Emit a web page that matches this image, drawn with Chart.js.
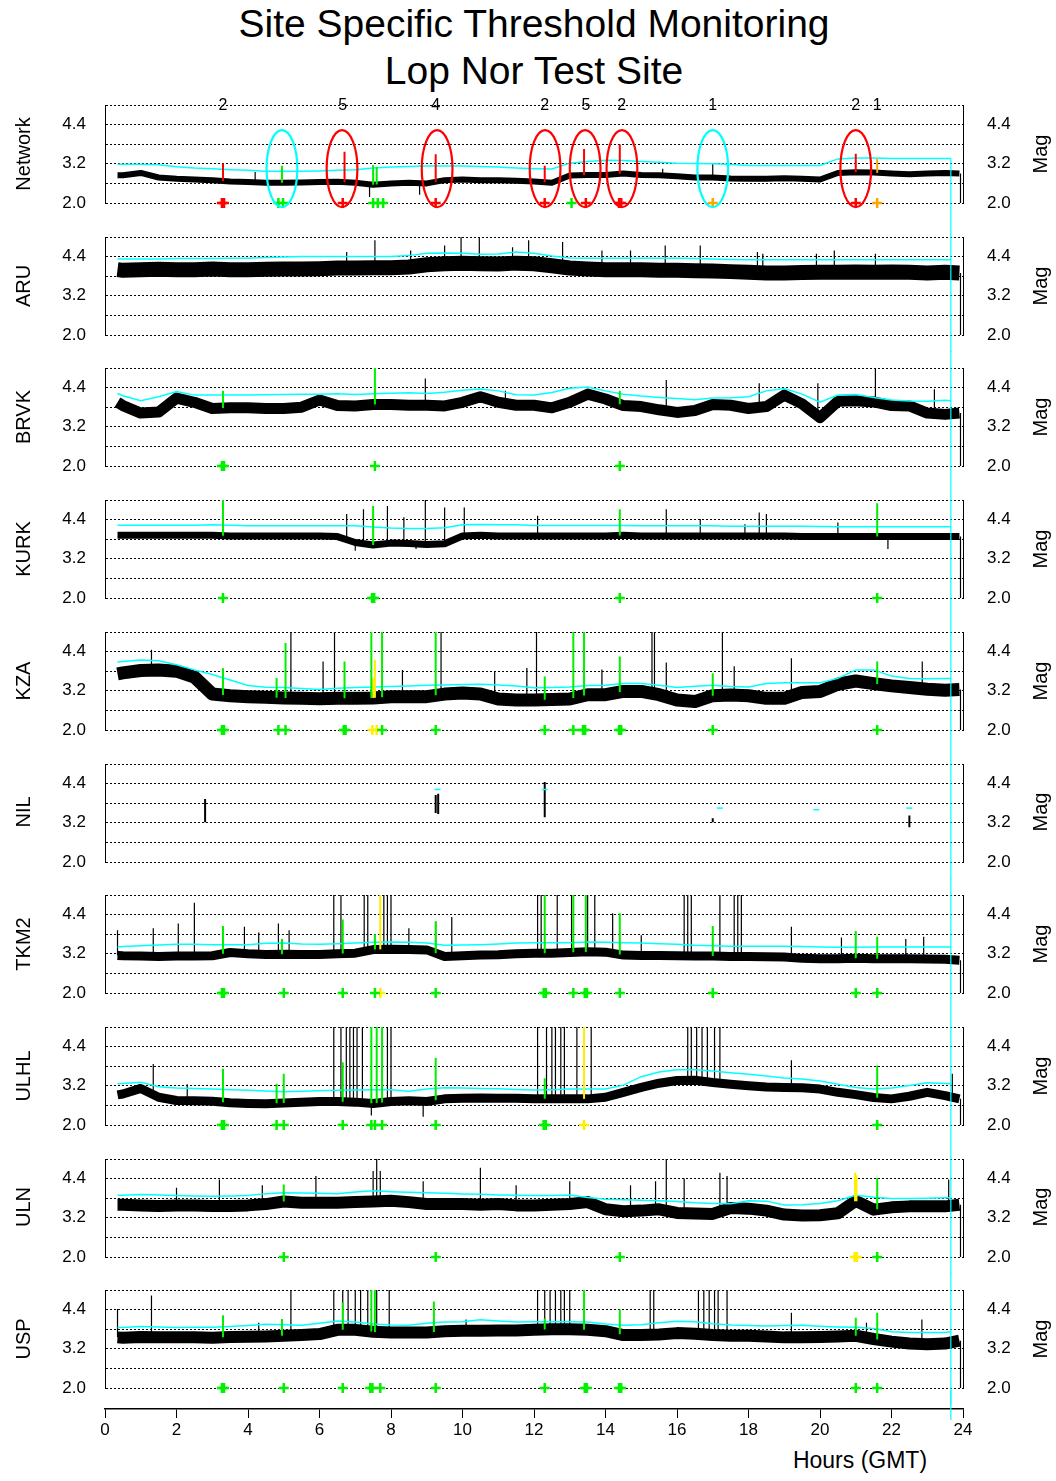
<!DOCTYPE html>
<html lang="en">
<head>
<meta charset="UTF-8">
<meta name="viewport" content="width=device-width, initial-scale=1.0">
<title>Site Specific Threshold Monitoring</title>
<script src="https://cdn.jsdelivr.net/npm/chart.js"></script>
<style>
    html, body { margin: 0; padding: 0; background: #fff; }
    body {
        position: relative;
        width: 1056px;
        height: 1481px;
        overflow: hidden;
        font-family: "Liberation Sans", Arial, sans-serif;
        color: #000;
    }
    canvas { position: absolute; left: 0; }
    .title {
        position: absolute; left: 0; top: 0; width: 1068px;
        text-align: center; font-size: 39px; line-height: 47px;
    }
    .side {
        position: absolute; width: 200px; height: 24px; line-height: 24px;
        text-align: center; font-size: 20px; white-space: nowrap;
        transform: rotate(-90deg);
    }
    .xtitle {
        position: absolute; left: 760px; top: 1447px; width: 200px;
        text-align: center; font-size: 23px; line-height: 26px;
    }
</style>
</head>
<body>
<div class="title">Site Specific Threshold Monitoring<br>Lop Nor Test Site</div>
<div class="xtitle">Hours (GMT)</div>

<script>
// time grid of the station traces and of the thresholds (hours GMT)
var hours = [0.35, 0.5, 1, 1.5, 2, 2.5, 3, 3.5, 4, 4.5, 5, 5.5, 6, 6.5, 7, 7.5, 8, 8.5, 9, 9.5,
    10, 10.5, 11, 11.5, 12, 12.5, 13, 13.5, 14, 14.5, 15, 15.5, 16, 16.5, 17, 17.5, 18, 18.5, 19, 19.5,
    20, 20.5, 21, 21.5, 22, 22.5, 23, 23.5, 23.9];
var thrHours = [0.35, 0.5, 1, 1.5, 2, 2.5, 3, 3.5, 4, 4.5, 5, 5.5, 6, 6.5, 7, 7.5, 8, 8.5, 9, 9.5,
    10, 10.5, 11, 11.5, 12, 12.5, 13, 13.5, 14, 14.5, 15, 15.5, 16, 16.5, 17, 17.5, 18, 18.5, 19, 19.5,
    20, 20.5, 21, 21.5, 22, 22.5, 23, 23.5, 23.66];
var nowHour = 23.66;
var hourTicks = [0, 2, 4, 6, 8, 10, 12, 14, 16, 18, 20, 22, 24];
var gridMags = [2.0, 2.6, 3.2, 3.8, 4.4, 5.0];
var labelMags = [2.0, 3.2, 4.4];

// Network
var networkTrace = [2.85, 2.85, 2.92, 2.78, 2.74, 2.72, 2.70, 2.66, 2.64, 2.62,
    2.62, 2.63, 2.64, 2.65, 2.62, 2.56, 2.60, 2.62, 2.60, 2.70,
    2.72, 2.70, 2.70, 2.68, 2.66, 2.62, 2.84, 2.86, 2.86, 2.90,
    2.86, 2.85, 2.82, 2.78, 2.78, 2.75, 2.74, 2.74, 2.76, 2.74,
    2.72, 2.92, 2.94, 2.93, 2.90, 2.88, 2.90, 2.92, 2.90];
var networkThr = [3.19, 3.19, 3.19, 3.17, 3.11, 3.07, 3.05, 3.02, 3.00, 2.97,
    2.97, 2.97, 2.98, 3.00, 3.02, 3.07, 3.10, 3.12, 3.13, 3.13,
    3.13, 3.12, 3.10, 3.07, 3.05, 3.04, 3.22, 3.27, 3.31, 3.30,
    3.27, 3.25, 3.22, 3.21, 3.20, 3.18, 3.15, 3.15, 3.15, 3.15,
    3.15, 3.35, 3.38, 3.38, 3.36, 3.36, 3.36, 3.36, 3.36];
var networkSpikes = [[4.2, 2.95], [7.4, 2.18], [8.8, 2.25], [15.6, 3.05], [17.0, 3.2], [23.93, 2.0]];
var networkRed = [[3.3, 3.21], [6.7, 3.57], [9.25, 3.49], [12.3, 3.14], [13.4, 3.65], [14.4, 3.79], [21.0, 3.51]];
var networkGreen = [[4.95, 3.14], [7.5, 3.16], [7.6, 3.1]];
var networkOrange = [[21.6, 3.36]];
var networkMarks = [4.85, 4.98, 7.5, 7.63, 7.78, 13.05];
var networkRedMarks = [3.27, 3.33, 6.65, 9.25, 12.3, 13.45, 14.38, 14.44, 21.0];
var networkOrangeMarks = [17.0, 21.6];
var eventHours = [3.3, 6.65, 9.25, 12.3, 13.45, 14.45, 17.0, 21.0, 21.6];
var eventCounts = ['2', '5', '4', '2', '5', '2', '1', '2', '1'];
var circledHours = [6.63, 9.29, 12.31, 13.43, 14.46, 21.0];
var missedHours = [4.95, 17.0];

// ARU
var aruTrace = [4.00, 3.98, 4.00, 4.01, 4.00, 4.00, 4.02, 4.00, 4.00, 4.01,
    4.02, 4.02, 4.03, 4.05, 4.05, 4.06, 4.06, 4.08, 4.15, 4.18,
    4.20, 4.18, 4.17, 4.20, 4.18, 4.12, 4.05, 4.02, 4.00, 4.00,
    4.00, 3.98, 3.98, 3.97, 3.96, 3.94, 3.92, 3.90, 3.90, 3.91,
    3.92, 3.92, 3.93, 3.92, 3.93, 3.92, 3.90, 3.92, 3.90];
var aruThr = [4.33, 4.33, 4.33, 4.33, 4.34, 4.34, 4.34, 4.35, 4.35, 4.37,
    4.39, 4.40, 4.40, 4.40, 4.40, 4.40, 4.40, 4.43, 4.50, 4.51,
    4.50, 4.47, 4.48, 4.54, 4.50, 4.42, 4.36, 4.35, 4.35, 4.35,
    4.35, 4.35, 4.35, 4.34, 4.33, 4.31, 4.30, 4.30, 4.30, 4.30,
    4.30, 4.30, 4.30, 4.30, 4.30, 4.30, 4.30, 4.30, 4.30];
var aruSpikes = [[6.76, 4.54], [7.55, 4.9], [8.55, 4.59], [9.5, 4.74], [9.96, 5.0], [10.47, 5.0], [11.4, 4.69],
    [11.85, 4.9], [12.8, 4.85], [13.9, 4.59], [14.7, 4.59], [15.67, 4.74], [16.65, 4.74], [18.25, 4.54],
    [18.4, 4.49], [19.9, 4.49], [20.4, 4.59], [21.55, 4.49], [23.93, 2.0]];

// BRVK
var brvkTrace = [3.95, 3.85, 3.62, 3.65, 4.08, 3.95, 3.76, 3.78, 3.78, 3.76,
    3.76, 3.80, 4.02, 3.85, 3.84, 3.88, 3.88, 3.86, 3.86, 3.84,
    3.95, 4.12, 3.95, 3.86, 3.86, 3.78, 3.95, 4.20, 4.05, 3.85,
    3.82, 3.72, 3.64, 3.70, 3.88, 3.86, 3.76, 3.82, 4.17, 3.90,
    3.48, 3.98, 4.00, 3.96, 3.85, 3.84, 3.62, 3.58, 3.62];
var brvkThr = [4.22, 4.15, 4.00, 4.12, 4.28, 4.17, 4.17, 4.17, 4.17, 4.18,
    4.19, 4.20, 4.20, 4.21, 4.19, 4.21, 4.23, 4.24, 4.22, 4.26,
    4.32, 4.36, 4.30, 4.18, 4.17, 4.25, 4.38, 4.42, 4.30, 4.20,
    4.14, 4.10, 4.07, 4.03, 4.08, 4.09, 4.12, 4.30, 4.37, 4.20,
    3.95, 4.17, 4.19, 4.10, 4.02, 3.99, 3.98, 4.01, 4.00];
var brvkSpikes = [[8.96, 4.68], [11.2, 4.3], [15.7, 4.63], [18.3, 4.53], [19.94, 4.53], [21.55, 5.0], [23.2, 4.35], [23.93, 2.0]];
var brvkGreen = [[3.3, 4.3], [7.55, 5.0], [14.4, 4.3]];
var brvkMarks = [3.27, 3.33, 7.55, 14.4];

// KURK
var kurkTrace = [3.92, 3.92, 3.92, 3.92, 3.92, 3.92, 3.92, 3.90, 3.90, 3.90,
    3.90, 3.90, 3.90, 3.88, 3.70, 3.62, 3.68, 3.67, 3.64, 3.66,
    3.90, 3.92, 3.90, 3.90, 3.90, 3.90, 3.90, 3.90, 3.90, 3.92,
    3.90, 3.90, 3.90, 3.90, 3.90, 3.90, 3.90, 3.90, 3.90, 3.88,
    3.88, 3.88, 3.88, 3.88, 3.88, 3.88, 3.88, 3.88, 3.88];
var kurkThr = [4.23, 4.23, 4.23, 4.23, 4.23, 4.23, 4.24, 4.23, 4.21, 4.21,
    4.21, 4.21, 4.21, 4.21, 4.21, 4.17, 4.14, 4.13, 4.13, 4.15,
    4.24, 4.25, 4.24, 4.24, 4.22, 4.22, 4.22, 4.22, 4.22, 4.22,
    4.21, 4.21, 4.21, 4.21, 4.21, 4.20, 4.20, 4.20, 4.20, 4.20,
    4.19, 4.18, 4.18, 4.18, 4.18, 4.18, 4.18, 4.18, 4.18];
var kurkSpikes = [[6.76, 4.57], [7.0, 3.45], [7.23, 4.72], [7.9, 4.82], [8.36, 4.47], [8.7, 3.5], [8.96, 5.0],
    [9.5, 4.77], [10.05, 4.77], [12.1, 4.52], [15.7, 4.72], [16.65, 4.42], [17.9, 4.26], [18.3, 4.62],
    [18.5, 4.57], [20.5, 4.31], [21.9, 3.5], [23.93, 2.0]];
var kurkGreen = [[3.3, 5.0], [7.5, 4.82], [14.4, 4.72], [21.6, 4.9]];
var kurkMarks = [3.3, 7.47, 7.53, 14.4, 21.6];

// KZA
var kzaTrace = [3.72, 3.75, 3.82, 3.84, 3.80, 3.62, 3.10, 3.05, 3.02, 3.00,
    2.98, 2.97, 2.96, 2.97, 2.97, 2.98, 3.02, 3.02, 3.02, 3.10,
    3.13, 3.10, 2.95, 2.92, 2.92, 2.93, 2.95, 3.08, 3.08, 3.18,
    3.18, 3.08, 2.92, 2.87, 3.05, 3.07, 3.05, 2.97, 2.97, 3.15,
    3.18, 3.40, 3.50, 3.42, 3.35, 3.30, 3.25, 3.22, 3.24];
var kzaThr = [4.08, 4.10, 4.14, 4.12, 4.00, 3.84, 3.70, 3.53, 3.36, 3.31,
    3.30, 3.27, 3.24, 3.28, 3.30, 3.32, 3.33, 3.35, 3.37, 3.38,
    3.39, 3.40, 3.38, 3.35, 3.29, 3.30, 3.32, 3.36, 3.37, 3.42,
    3.42, 3.37, 3.30, 3.34, 3.37, 3.33, 3.32, 3.42, 3.45, 3.45,
    3.45, 3.58, 3.84, 3.84, 3.65, 3.58, 3.57, 3.58, 3.58];
var kzaSpikes = [[1.3, 4.46], [5.2, 5.0], [6.1, 4.1], [6.42, 5.0], [8.32, 3.84], [9.4, 5.0], [10.9, 3.79],
    [11.8, 3.9], [12.07, 5.0], [13.9, 3.85], [15.3, 5.0], [15.37, 5.0], [15.7, 4.07], [17.27, 5.0],
    [17.6, 3.95], [19.2, 4.2], [22.86, 4.1], [23.93, 2.0]];
var kzaGreen = [[3.3, 3.89], [4.8, 3.59], [5.05, 4.66], [6.7, 4.1], [7.45, 5.0], [7.75, 5.0], [9.25, 5.0],
    [12.3, 3.64], [13.1, 5.0], [13.4, 5.0], [14.4, 4.25], [17.0, 3.74], [21.6, 4.1]];
var kzaYellow = [[7.5, 3.6], [7.55, 4.15]];
var kzaMarks = [3.27, 3.33, 4.85, 5.05, 6.68, 6.73, 7.75, 9.25, 12.3, 13.1, 13.37, 13.43, 14.38, 14.44, 17.0, 21.6];
var kzaYMarks = [7.48, 7.6];

// NIL: only a few short pieces of data
var nilSegments = [[2.8, 3.22, 3.93], [9.25, 3.5, 4.05], [9.32, 3.47, 4.09], [12.3, 3.37, 4.45], [17.0, 3.22, 3.34], [22.5, 3.06, 3.42]];
var nilThrHours = [9.3, 12.3, 17.2, 19.9, 22.5];
var nilThr = [4.22, 4.22, 3.65, 3.6, 3.65];

// TKM2
var tkm2Trace = [3.15, 3.14, 3.13, 3.12, 3.13, 3.13, 3.14, 3.24, 3.20, 3.18,
    3.19, 3.18, 3.18, 3.20, 3.22, 3.33, 3.34, 3.33, 3.32, 3.12,
    3.14, 3.16, 3.17, 3.20, 3.22, 3.22, 3.24, 3.26, 3.25, 3.16,
    3.15, 3.15, 3.14, 3.13, 3.13, 3.12, 3.12, 3.11, 3.10, 3.06,
    3.05, 3.05, 3.06, 3.05, 3.05, 3.05, 3.04, 3.03, 3.00];
var tkm2Thr = [3.41, 3.42, 3.45, 3.47, 3.49, 3.49, 3.48, 3.48, 3.48, 3.52,
    3.53, 3.50, 3.49, 3.51, 3.53, 3.55, 3.56, 3.55, 3.53, 3.46,
    3.47, 3.48, 3.50, 3.53, 3.54, 3.54, 3.54, 3.56, 3.55, 3.54,
    3.53, 3.51, 3.49, 3.46, 3.45, 3.43, 3.43, 3.43, 3.43, 3.42,
    3.41, 3.40, 3.40, 3.41, 3.41, 3.41, 3.41, 3.41, 3.41];
var tkm2Spikes = [[0.35, 3.92], [1.35, 3.98], [2.05, 4.13], [2.5, 4.76], [3.9, 4.03], [4.3, 3.85], [4.85, 4.13],
    [5.15, 3.92], [6.4, 5.0], [6.6, 5.0], [7.25, 5.0], [7.35, 5.0], [7.8, 5.0], [7.9, 5.0], [8.0, 5.0],
    [8.5, 3.98], [9.25, 4.18], [9.7, 4.33], [12.1, 5.0], [12.2, 5.0], [12.65, 5.0], [13.05, 5.0],
    [13.5, 5.0], [13.7, 5.0], [14.2, 4.44], [15.0, 3.77], [16.2, 5.0], [16.3, 5.0], [16.4, 5.0],
    [17.2, 5.0], [17.6, 5.0], [17.7, 5.0], [17.8, 5.0], [19.2, 4.03], [20.6, 3.7], [22.4, 3.65],
    [22.9, 3.72], [23.93, 2.0]];
var tkm2Green = [[3.3, 4.05], [4.95, 3.65], [6.65, 4.25], [7.55, 3.8], [9.25, 4.2], [12.3, 5.0], [13.1, 5.0],
    [13.45, 5.0], [14.4, 4.44], [17.0, 4.05], [21.0, 3.9], [21.6, 3.72]];
var tkm2Yellow = [[7.7, 5.0]];
var tkm2Marks = [3.27, 3.33, 5.0, 6.65, 7.55, 9.25, 12.27, 12.33, 13.1, 13.42, 13.48, 14.4, 17.0, 21.0, 21.6];
var tkm2YMarks = [7.7];

// ULHL
var ulhlTrace = [2.92, 2.95, 3.12, 2.85, 2.75, 2.74, 2.73, 2.68, 2.66, 2.65,
    2.67, 2.70, 2.72, 2.72, 2.70, 2.66, 2.72, 2.74, 2.72, 2.80,
    2.82, 2.83, 2.82, 2.82, 2.80, 2.80, 2.80, 2.80, 2.85, 3.00,
    3.15, 3.28, 3.36, 3.37, 3.30, 3.25, 3.20, 3.16, 3.15, 3.14,
    3.10, 3.00, 2.93, 2.84, 2.80, 2.88, 3.00, 2.90, 2.80];
var ulhlThr = [3.26, 3.27, 3.31, 3.17, 3.13, 3.12, 3.10, 3.08, 3.06, 3.04,
    3.02, 3.03, 3.05, 3.06, 3.07, 3.08, 3.08, 3.03, 3.10, 3.14,
    3.13, 3.12, 3.11, 3.09, 3.07, 3.08, 3.10, 3.10, 3.10, 3.22,
    3.48, 3.62, 3.69, 3.69, 3.65, 3.60, 3.55, 3.50, 3.44, 3.41,
    3.35, 3.25, 3.15, 3.10, 3.13, 3.21, 3.29, 3.27, 3.26];
var ulhlSpikes = [[1.35, 3.87], [2.3, 3.25], [6.4, 5.0], [6.6, 5.0], [6.75, 5.0], [6.85, 5.0], [6.95, 5.0],
    [7.05, 5.0], [7.2, 5.0], [7.45, 2.29], [7.9, 5.0], [8.0, 5.0], [8.9, 2.25], [12.1, 5.0], [12.35, 5.0],
    [12.5, 5.0], [12.6, 5.0], [12.75, 5.0], [12.85, 5.0], [13.2, 5.0], [13.6, 5.0], [16.3, 5.0],
    [16.4, 5.0], [16.55, 5.0], [16.7, 5.0], [16.85, 5.0], [17.05, 5.0], [17.2, 5.0], [19.2, 3.98],
    [23.7, 3.57], [23.93, 2.0]];
var ulhlGreen = [[3.3, 3.72], [4.8, 3.26], [5.0, 3.57], [6.65, 3.92], [7.45, 5.0], [7.6, 5.0], [7.75, 5.0],
    [9.25, 4.05], [12.3, 3.43], [21.6, 3.82]];
var ulhlYellow = [[13.4, 5.0]];
var ulhlMarks = [3.27, 3.33, 4.8, 5.0, 6.65, 7.45, 7.55, 7.75, 9.25, 12.27, 12.33, 21.6];
var ulhlYMarks = [13.4];

// ULN
var ulnTrace = [3.60, 3.60, 3.58, 3.56, 3.58, 3.58, 3.56, 3.56, 3.58, 3.62,
    3.70, 3.66, 3.66, 3.66, 3.68, 3.70, 3.72, 3.68, 3.62, 3.62,
    3.62, 3.60, 3.62, 3.58, 3.58, 3.60, 3.62, 3.68, 3.46, 3.40,
    3.42, 3.46, 3.35, 3.33, 3.32, 3.50, 3.48, 3.42, 3.30, 3.27,
    3.28, 3.34, 3.72, 3.45, 3.52, 3.55, 3.55, 3.55, 3.60];
var ulnThr = [3.89, 3.89, 3.91, 3.90, 3.88, 3.87, 3.86, 3.87, 3.88, 3.94,
    3.97, 3.96, 3.95, 3.94, 3.99, 4.03, 4.00, 3.98, 3.97, 3.95,
    3.93, 3.92, 3.90, 3.89, 3.88, 3.88, 3.90, 3.82, 3.77, 3.75,
    3.74, 3.72, 3.70, 3.66, 3.64, 3.63, 3.72, 3.71, 3.59, 3.60,
    3.64, 3.72, 3.89, 3.83, 3.79, 3.79, 3.80, 3.81, 3.81];
var ulnSpikes = [[2.0, 4.12], [3.2, 4.37], [4.4, 4.2], [5.9, 4.48], [7.5, 4.63], [7.6, 5.0], [7.7, 4.63],
    [8.9, 4.32], [10.5, 4.73], [11.5, 4.2], [13.0, 4.32], [14.7, 4.2], [15.4, 4.32], [15.7, 5.0],
    [16.2, 4.4], [17.2, 4.58], [17.4, 4.48], [23.6, 4.37], [23.93, 2.0]];
var ulnGreen = [[5.0, 4.22], [21.6, 4.42]];
var ulnYellow = [[20.98, 4.58], [21.02, 4.5]];
var ulnMarks = [5.0, 9.25, 14.4, 21.6];
var ulnYMarks = [20.97, 21.03];

// USP
var uspTrace = [3.55, 3.54, 3.56, 3.55, 3.55, 3.55, 3.54, 3.56, 3.57, 3.58,
    3.60, 3.62, 3.65, 3.78, 3.78, 3.72, 3.70, 3.70, 3.70, 3.74,
    3.75, 3.75, 3.76, 3.76, 3.78, 3.80, 3.80, 3.78, 3.74, 3.62,
    3.62, 3.64, 3.68, 3.66, 3.62, 3.60, 3.60, 3.58, 3.55, 3.55,
    3.56, 3.58, 3.60, 3.50, 3.42, 3.36, 3.34, 3.36, 3.45];
var uspThr = [3.85, 3.85, 3.88, 3.87, 3.85, 3.86, 3.86, 3.88, 3.91, 3.95,
    3.94, 3.92, 3.98, 4.05, 4.02, 3.96, 3.93, 3.92, 3.98, 4.02,
    4.03, 4.09, 4.05, 4.02, 4.03, 4.03, 4.03, 4.02, 3.96, 3.92,
    3.94, 4.00, 4.04, 4.03, 3.97, 3.93, 3.91, 3.90, 3.91, 3.92,
    3.89, 3.87, 3.86, 3.82, 3.72, 3.70, 3.70, 3.70, 3.72];
var uspSpikes = [[0.35, 4.42], [1.3, 4.83], [4.3, 4.0], [5.2, 5.0], [6.4, 5.0], [6.65, 5.0], [6.8, 5.0],
    [7.0, 5.0], [7.15, 5.0], [7.35, 5.0], [7.6, 5.0], [7.95, 5.0], [10.1, 4.1], [12.1, 5.0], [12.3, 5.0],
    [12.45, 5.0], [12.6, 5.0], [12.75, 5.0], [12.85, 5.0], [13.0, 5.0], [15.25, 5.0], [15.35, 5.0],
    [16.6, 5.0], [16.75, 5.0], [16.9, 5.0], [17.05, 5.0], [17.15, 5.0], [17.4, 5.0], [19.2, 4.3],
    [21.3, 4.0], [22.85, 4.1], [23.93, 2.0]];
var uspGreen = [[3.3, 4.23], [4.95, 4.11], [6.65, 4.62], [7.45, 5.0], [7.55, 5.0], [9.2, 4.65], [12.3, 4.13],
    [13.4, 5.0], [14.4, 4.4], [21.0, 4.15], [21.6, 4.3]];
var uspMarks = [3.27, 3.33, 5.0, 6.65, 7.42, 7.48, 7.7, 9.25, 12.3, 13.42, 13.48, 14.38, 14.44, 21.0, 21.6];

var W = 1056, PLOT_L = 105, PLOT_R = 963;
var PANEL_TOP0 = 105, PANEL_STEP = 131.7, PLOT_H = 97.7, PAD = 17, CANVAS_H = 132;
var CYAN = '#00ffff', GREEN = '#00f000', RED = '#ff0000', YELLOW = '#ffee00', ORANGE = '#ffa500';

Chart.defaults.font.family = '"Liberation Sans", Arial, sans-serif';
Chart.defaults.color = '#000';

var panels = [
    { name: 'Network', trace: networkTrace, thr: networkThr, band: 6, spikes: networkSpikes,
      green: networkGreen, red: networkRed, orange: networkOrange,
      marks: networkMarks, redMarks: networkRedMarks, orangeMarks: networkOrangeMarks },
    { name: 'ARU', trace: aruTrace, thr: aruThr, band: 15, spikes: aruSpikes },
    { name: 'BRVK', trace: brvkTrace, thr: brvkThr, band: 11, spikes: brvkSpikes, green: brvkGreen, marks: brvkMarks },
    { name: 'KURK', trace: kurkTrace, thr: kurkThr, band: 7, spikes: kurkSpikes, green: kurkGreen, marks: kurkMarks },
    { name: 'KZA', trace: kzaTrace, thr: kzaThr, band: 13, spikes: kzaSpikes, green: kzaGreen, yellow: kzaYellow,
      marks: kzaMarks, yMarks: kzaYMarks },
    { name: 'NIL', segments: nilSegments },
    { name: 'TKM2', trace: tkm2Trace, thr: tkm2Thr, band: 9, spikes: tkm2Spikes, green: tkm2Green, yellow: tkm2Yellow,
      marks: tkm2Marks, yMarks: tkm2YMarks },
    { name: 'ULHL', trace: ulhlTrace, thr: ulhlThr, band: 9, spikes: ulhlSpikes, green: ulhlGreen, yellow: ulhlYellow,
      marks: ulhlMarks, yMarks: ulhlYMarks },
    { name: 'ULN', trace: ulnTrace, thr: ulnThr, band: 12, spikes: ulnSpikes, green: ulnGreen, yellow: ulnYellow,
      marks: ulnMarks, yMarks: ulnYMarks },
    { name: 'USP', trace: uspTrace, thr: uspThr, band: 12, spikes: uspSpikes, green: uspGreen, marks: uspMarks }
];

// trace level at hour h, used as the foot of a spike
function baseAt(trace, h) {
    if (h <= hours[0]) return trace[0];
    for (var i = 1; i < hours.length; i++) {
        if (h <= hours[i]) {
            var t = (h - hours[i - 1]) / (hours[i] - hours[i - 1]);
            return trace[i - 1] + t * (trace[i] - trace[i - 1]);
        }
    }
    return trace[trace.length - 1];
}

function spikeSet(list, trace, color, width, order) {
    var data = [];
    list.forEach(function (s) {
        data.push({ x: s[0], y: baseAt(trace, s[0]) }, { x: s[0], y: s[1] }, { x: s[0], y: null });
    });
    return { data: data, borderColor: color, borderWidth: width, pointRadius: 0, spanGaps: false, order: order };
}

function markSet(list, color) {
    return {
        data: list.map(function (h) { return { x: h, y: 2.0 }; }),
        showLine: false, pointStyle: 'cross', pointRadius: 5, pointBorderWidth: 2.5,
        pointBorderColor: color, borderColor: color, clip: false, order: 1
    };
}

function sideLabel(text, cx, cy) {
    var d = document.createElement('div');
    d.className = 'side';
    d.textContent = text;
    d.style.left = (cx - 100) + 'px';
    d.style.top = (cy - 12) + 'px';
    document.body.appendChild(d);
}

// the gap between axis and label comes from an invisible tick mark,
// so the tick padding does not push the plot area inwards
function yAxis(position, width, gap) {
    return {
        position: position, min: 2, max: 5,
        afterBuildTicks: function (s) { s.ticks = gridMags.map(function (v) { return { value: v }; }); },
        afterFit: function (s) { s.width = width; },
        ticks: {
            padding: 0, font: { size: 17 }, autoSkip: false,
            callback: function (v) { return labelMags.indexOf(v) >= 0 ? v.toFixed(1) : ''; }
        },
        grid: {
            display: true, drawOnChartArea: position === 'left', color: '#000', lineWidth: 1,
            drawTicks: true, tickLength: gap, tickColor: 'rgba(0,0,0,0)'
        },
        border: { display: true, color: '#000', width: 1, dash: [2, 2] }
    };
}

function buildPanel(p, idx) {
    var plotTop = PANEL_TOP0 + idx * PANEL_STEP;
    var canvas = document.createElement('canvas');
    canvas.width = W;
    canvas.height = CANVAS_H;
    canvas.style.top = Math.round(plotTop - PAD) + 'px';
    document.body.appendChild(canvas);
    sideLabel(p.name, 23, plotTop + PLOT_H / 2);
    sideLabel('Mag', 1040, plotTop + PLOT_H / 2);

    var ds = [];
    if (p.trace) {
        ds.push({
            data: hours.map(function (h, i) { return { x: h, y: p.trace[i] }; }),
            borderColor: '#000', borderWidth: p.band, borderJoinStyle: 'round', pointRadius: 0, order: 9
        });
        ds.push(spikeSet(p.spikes, p.trace, '#000', 1.2, 8));
        ds.push({
            data: thrHours.map(function (h, i) { return { x: h, y: p.thr[i] }; }),
            borderColor: CYAN, borderWidth: 1.5, pointRadius: 0, order: 6
        });
        if (p.green) ds.push(spikeSet(p.green, p.trace, GREEN, 2, 4));
        if (p.yellow) ds.push(spikeSet(p.yellow, p.trace, YELLOW, 2, 4));
        if (p.red) ds.push(spikeSet(p.red, p.trace, RED, 2, 3));
        if (p.orange) ds.push(spikeSet(p.orange, p.trace, ORANGE, 2, 3));
    }
    if (p.segments) {
        var seg = [];
        p.segments.forEach(function (s) {
            seg.push({ x: s[0], y: s[1] }, { x: s[0], y: s[2] }, { x: s[0], y: null });
        });
        ds.push({ data: seg, borderColor: '#000', borderWidth: 2, pointRadius: 0, spanGaps: false, order: 8 });
        ds.push({
            data: nilThrHours.map(function (h, i) { return { x: h, y: nilThr[i] }; }),
            showLine: false, pointStyle: 'line', pointRadius: 3, pointBorderWidth: 1.5,
            pointBorderColor: CYAN, borderColor: CYAN, order: 6
        });
    }
    if (p.marks) ds.push(markSet(p.marks, GREEN));
    if (p.yMarks) ds.push(markSet(p.yMarks, YELLOW));
    if (p.redMarks) ds.push(markSet(p.redMarks, RED));
    if (p.orangeMarks) ds.push(markSet(p.orangeMarks, ORANGE));

    var extras = {
        id: 'extras' + idx,
        afterDatasetsDraw: function (chart) {
            var ctx = chart.ctx, xs = chart.scales.x, ys = chart.scales.y;
            ctx.save();
            // vertical "now" line through every panel
            var nx = xs.getPixelForValue(nowHour);
            var y0 = idx === 0 ? ys.getPixelForValue(p.thr[p.thr.length - 1]) : 0;
            ctx.strokeStyle = CYAN;
            ctx.lineWidth = 1.2;
            ctx.beginPath();
            ctx.moveTo(nx, y0);
            ctx.lineTo(nx, chart.height);
            ctx.stroke();
            if (idx === 0) {
                // circled events
                var rx = xs.getPixelForValue(0.43) - xs.getPixelForValue(0);
                var ry = ys.getPixelForValue(3.05) - ys.getPixelForValue(4.23);
                var cy = ys.getPixelForValue(3.05);
                ctx.lineWidth = 2.2;
                ctx.strokeStyle = RED;
                circledHours.forEach(function (h) {
                    ctx.beginPath();
                    ctx.ellipse(xs.getPixelForValue(h), cy, rx, ry, 0, 0, Math.PI * 2);
                    ctx.stroke();
                });
                ctx.strokeStyle = CYAN;
                missedHours.forEach(function (h) {
                    ctx.beginPath();
                    ctx.ellipse(xs.getPixelForValue(h), cy, rx, ry, 0, 0, Math.PI * 2);
                    ctx.stroke();
                });
                // number of stations per event
                ctx.fillStyle = '#000';
                ctx.font = '16px "Liberation Sans", Arial, sans-serif';
                ctx.textAlign = 'center';
                ctx.textBaseline = 'middle';
                eventHours.forEach(function (h, i) {
                    ctx.fillText(eventCounts[i], xs.getPixelForValue(h), ys.getPixelForValue(5.0) + 1);
                });
            }
            ctx.restore();
        }
    };

    new Chart(canvas, {
        type: 'line',
        data: { datasets: ds },
        options: {
            responsive: false,
            animation: false,
            devicePixelRatio: 1,
            layout: { padding: { top: PAD, bottom: CANVAS_H - PAD - Math.round(PLOT_H + 0.3), left: 0, right: 0 } },
            plugins: { legend: { display: false }, tooltip: { enabled: false } },
            elements: { line: { tension: 0 } },
            scales: {
                x: { type: 'linear', min: 0, max: 24, display: false },
                y: yAxis('left', PLOT_L, 19),
                y2: yAxis('right', W - PLOT_R, 24)
            }
        },
        plugins: [extras]
    });
}

panels.forEach(buildPanel);

// shared time axis at the bottom
var axisCanvas = document.createElement('canvas');
axisCanvas.width = W;
axisCanvas.height = 91;
axisCanvas.style.top = '1390px';
document.body.appendChild(axisCanvas);

new Chart(axisCanvas, {
    type: 'line',
    data: { datasets: [] },
    options: {
        responsive: false,
        animation: false,
        devicePixelRatio: 1,
        layout: { padding: { left: PLOT_L, right: W - PLOT_R, top: 0, bottom: 0 } },
        plugins: { legend: { display: false }, tooltip: { enabled: false } },
        scales: {
            x: {
                type: 'linear', min: 0, max: 24,
                afterBuildTicks: function (s) { s.ticks = hourTicks.map(function (v) { return { value: v }; }); },
                afterFit: function (s) { s.height = 72; },
                grid: { drawOnChartArea: false, drawTicks: true, tickLength: 9, color: '#000' },
                border: { display: true, color: '#000', width: 1.5 },
                ticks: { padding: 2, font: { size: 17 }, maxRotation: 0, autoSkip: false }
            },
            y: { display: false }
        }
    },
    plugins: [{
        id: 'nowAxis',
        afterDraw: function (chart) {
            var ctx = chart.ctx;
            var nx = chart.scales.x.getPixelForValue(nowHour);
            ctx.save();
            ctx.strokeStyle = CYAN;
            ctx.lineWidth = 1.2;
            ctx.beginPath();
            ctx.moveTo(nx, 0);
            ctx.lineTo(nx, 30);
            ctx.stroke();
            ctx.restore();
        }
    }]
});
</script>
</body>
</html>
